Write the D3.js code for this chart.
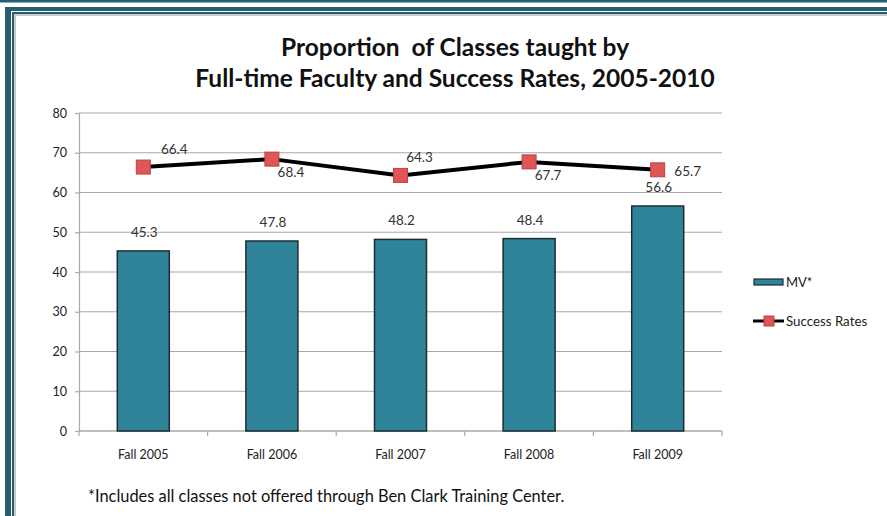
<!DOCTYPE html>
<html>
<head>
<meta charset="utf-8">
<script src="https://cdn.jsdelivr.net/npm/d3@7"></script>
<style>
  body { margin: 0; background: #fff; }
  svg { display: block; font-family: Lato, "Open Sans", sans-serif; }
</style>
</head>
<body>
<svg width="887" height="516"></svg>
<script>
// chart data
var years = ["Fall 2005", "Fall 2006", "Fall 2007", "Fall 2008", "Fall 2009"];
var mvValues = [45.3, 47.8, 48.2, 48.4, 56.6];
var successRates = [66.4, 68.4, 64.3, 67.7, 65.7];
var yTicks = [0, 10, 20, 30, 40, 50, 60, 70, 80];
// where excel put each line label
var rateLabelPos = ["above", "below", "above", "below", "right"];

var svg = d3.select("svg");
var teal = "#245f71";

// page frame
svg.append("rect").attr("x", 0).attr("y", 0).attr("width", 887).attr("height", 2.5).attr("fill", teal);
svg.append("rect").attr("x", 5).attr("y", 7).attr("width", 900).attr("height", 600).attr("fill", teal);
svg.append("rect").attr("x", 11).attr("y", 11).attr("width", 900).attr("height", 600).attr("fill", "#fff");
svg.append("rect").attr("x", 12).attr("y", 12).attr("width", 900).attr("height", 600).attr("fill", teal);
svg.append("rect").attr("x", 14).attr("y", 14).attr("width", 900).attr("height", 600).attr("fill", "#c8c8c8");
svg.append("rect").attr("x", 16).attr("y", 16).attr("width", 900).attr("height", 600).attr("fill", "#fff");

// title
var title = svg.append("text")
  .attr("text-anchor", "middle")
  .attr("font-weight", "bold")
  .attr("font-size", 24.5)
  .attr("fill", "#111");
title.append("tspan").attr("x", 455).attr("y", 56).attr("xml:space", "preserve").text("Proportion  of Classes taught by");
title.append("tspan").attr("x", 455).attr("y", 87).text("Full-time Faculty and Success Rates, 2005-2010");

var x = d3.scaleBand().domain(years).range([79, 722]);
var y = d3.scaleLinear().domain([0, 80]).range([431, 113]);

// gridlines
svg.append("g")
  .selectAll("line")
  .data(yTicks.slice(1))
  .enter().append("line")
    .attr("x1", 79).attr("x2", 722)
    .attr("y1", function(d) { return y(d); })
    .attr("y2", function(d) { return y(d); })
    .attr("stroke", "#a8a8a8")
    .attr("stroke-width", 1.2);

// y axis
var yAxis = svg.append("g")
  .attr("transform", "translate(79,0)")
  .call(d3.axisLeft(y).tickValues(yTicks).tickSize(4).tickPadding(8));
yAxis.select(".domain").attr("stroke", "#a8a8a8").attr("stroke-width", 1.2);
yAxis.selectAll(".tick line").attr("stroke", "#a8a8a8").attr("stroke-width", 1.2);
yAxis.selectAll("text").attr("font-size", 12.5).attr("fill", "#222").attr("font-family", "Lato, sans-serif");

// x axis with ticks between categories
var xAxisG = svg.append("g").attr("transform", "translate(0,431)");
xAxisG.append("line")
  .attr("x1", 79).attr("x2", 722)
  .attr("stroke", "#a8a8a8").attr("stroke-width", 1.5);
xAxisG.selectAll(".sep")
  .data(years.concat(["end"]))
  .enter().append("line")
    .attr("x1", function(d, i) { return 79 + i * x.step(); })
    .attr("x2", function(d, i) { return 79 + i * x.step(); })
    .attr("y1", 0).attr("y2", 5)
    .attr("stroke", "#a8a8a8").attr("stroke-width", 1.2);
xAxisG.selectAll(".lab")
  .data(years)
  .enter().append("text")
    .attr("x", function(d) { return x(d) + x.bandwidth() / 2; })
    .attr("y", 28)
    .attr("text-anchor", "middle")
    .attr("font-size", 12.5)
    .attr("fill", "#222")
    .text(function(d) { return d; });

// bars
var barW = 52;
svg.append("g")
  .selectAll("rect")
  .data(mvValues)
  .enter().append("rect")
    .attr("x", function(d, i) { return x(years[i]) + x.bandwidth() / 2 - barW / 2; })
    .attr("y", function(d) { return y(d); })
    .attr("width", barW)
    .attr("height", function(d) { return y(0) - y(d); })
    .attr("fill", "#2f8499")
    .attr("stroke", "#1b2c33")
    .attr("stroke-width", 1.5);

svg.append("g")
  .selectAll("text")
  .data(mvValues)
  .enter().append("text")
    .attr("x", function(d, i) { return x(years[i]) + x.bandwidth() / 2 + 1; })
    .attr("y", function(d) { return y(d) - 14; })
    .attr("text-anchor", "middle")
    .attr("font-size", 13.5)
    .attr("fill", "#333")
    .text(function(d) { return d.toFixed(1); });

// success rate line
var line = d3.line()
  .x(function(d, i) { return x(years[i]) + x.bandwidth() / 2; })
  .y(function(d) { return y(d); });

svg.append("path")
  .datum(successRates)
  .attr("d", line)
  .attr("fill", "none")
  .attr("stroke", "#000")
  .attr("stroke-width", 4)
  .attr("stroke-linejoin", "round");

svg.append("g")
  .selectAll("rect")
  .data(successRates)
  .enter().append("rect")
    .attr("x", function(d, i) { return x(years[i]) + x.bandwidth() / 2 - 7; })
    .attr("y", function(d) { return y(d) - 7; })
    .attr("width", 14).attr("height", 14)
    .attr("fill", "#e05555")
    .attr("stroke", "#b84444")
    .attr("stroke-width", 1);

svg.append("g")
  .selectAll("text")
  .data(successRates)
  .enter().append("text")
    .attr("x", function(d, i) {
      var cx = x(years[i]) + x.bandwidth() / 2;
      if (rateLabelPos[i] == "right") return cx + 30;
      return cx + 19 + (i == 0 ? 12 : 0);
    })
    .attr("y", function(d, i) {
      if (rateLabelPos[i] == "above") return y(d) - 13;
      if (rateLabelPos[i] == "below") return y(d) + 18;
      return y(d) + 6;
    })
    .attr("text-anchor", "middle")
    .attr("font-size", 13.5)
    .attr("fill", "#333")
    .text(function(d) { return d.toFixed(1); });

// legend
var leg = svg.append("g");
leg.append("rect")
  .attr("x", 754).attr("y", 279).attr("width", 29).attr("height", 6)
  .attr("fill", "#2f8499").attr("stroke", "#1b2c33").attr("stroke-width", 1.2);
leg.append("text").attr("x", 786).attr("y", 287).attr("font-size", 13).attr("fill", "#222").text("MV*");
leg.append("line")
  .attr("x1", 753).attr("x2", 784).attr("y1", 321).attr("y2", 321)
  .attr("stroke", "#000").attr("stroke-width", 3);
leg.append("rect")
  .attr("x", 764).attr("y", 316).attr("width", 10).attr("height", 10)
  .attr("fill", "#e05555").attr("stroke", "#b84444");
leg.append("text").attr("x", 786).attr("y", 326).attr("font-size", 13.3).attr("fill", "#222").text("Success Rates");

// footnote
svg.append("text")
  .attr("x", 88).attr("y", 502)
  .attr("font-size", 16.4)
  .attr("fill", "#111")
  .text("*Includes all classes not offered through Ben Clark Training Center.");
</script>
</body>
</html>
